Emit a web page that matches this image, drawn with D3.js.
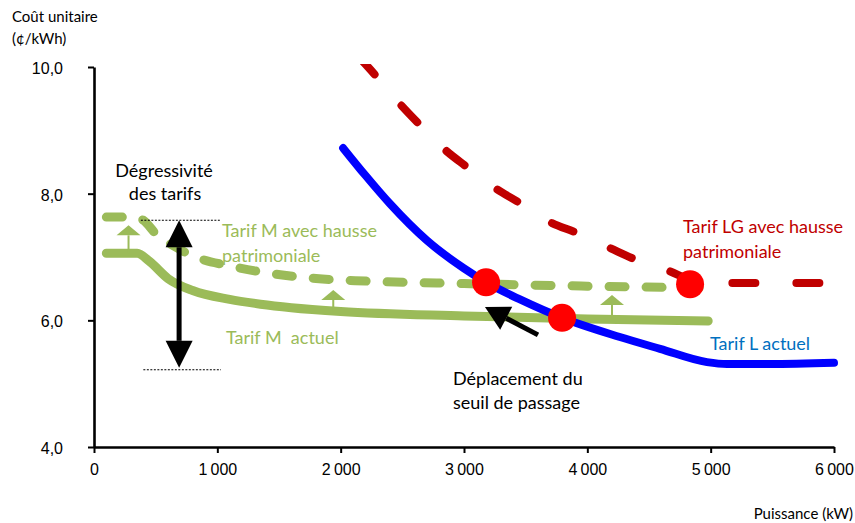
<!DOCTYPE html>
<html lang="fr">
<head>
<meta charset="utf-8">
<title>Coût unitaire selon la puissance</title>
<script src="https://cdn.jsdelivr.net/npm/d3@7/dist/d3.min.js"></script>
<style>
  html, body { margin: 0; padding: 0; background: #fff; }
  svg { display: block; }
  .label { font-family: Lato, "Open Sans", sans-serif; white-space: pre; }
  .tick text { font-family: "Liberation Sans", Arial, sans-serif; font-size: 16px; fill: #000; }
</style>
</head>
<body>
<div id="chart"></div>
<script>
// --- data (kW, ¢/kWh) ------------------------------------------------
const xTicks = [0, 1000, 2000, 3000, 4000, 5000, 6000];
const yTicks = [4, 6, 8, 10];

const tarifMActuel = [
  [100, 7.06], [350, 7.06], [450, 6.93], [600, 6.66], [800, 6.47],
  [1100, 6.33], [1350, 6.255], [1600, 6.20], [2000, 6.14], [3000, 6.07],
  [4000, 6.02], [4980, 5.99]
];

const tarifMHausse = [
  [100, 7.63], [320, 7.63], [400, 7.58], [500, 7.37], [650, 7.17],
  [850, 6.98], [1100, 6.86], [1400, 6.75], [1800, 6.66], [2200, 6.62],
  [3000, 6.58], [4000, 6.54], [4980, 6.51]
];

const tarifLActuel = [
  [2020, 8.72], [2200, 8.29], [2400, 7.84], [2700, 7.26], [3000, 6.82],
  [3179, 6.60], [3454, 6.33], [3795, 6.04], [4257, 5.74], [4590, 5.55],
  [4970, 5.34], [5133, 5.31], [5480, 5.31], [6000, 5.33]
];

const tarifLGHausse = [
  [2150, 10.15], [2222, 10.0], [2465, 9.45], [2635, 9.10], [2830, 8.72],
  [3024, 8.42], [3251, 8.09], [3454, 7.85], [3697, 7.55], [3916, 7.38],
  [4184, 7.14], [4403, 6.95], [4662, 6.78], [4833, 6.64], [4995, 6.59],
  [5238, 6.59], [6000, 6.59]
];

// seuils de passage (intersections)
const seuils = [[3179, 6.60], [3795, 6.04], [4833, 6.57]];

// petites flèches "hausse" : [kW, depuis, jusqu'à]
const hausseArrows = [[280, 7.06, 7.50], [1940, 6.14, 6.48], [4200, 6.02, 6.40]];

// dégressivité : [kW, haut, bas] et traits pointillés [kW début, kW fin, valeur]
const degressivite = [690, 7.58, 5.25];
const degressiviteGuides = [[380, 1020, 7.58], [400, 1030, 5.22]];

// déplacement du seuil : [[kW, val] départ, [kW, val] pointe]
const deplacement = [[3600, 5.77], [3170, 6.21]];

const annotations = [
  { text: 'Dégressivité', kw: 568, val: 8.26, color: '#000', anchor: 'middle' },
  { text: 'des tarifs', kw: 576, val: 7.90, color: '#000', anchor: 'middle' },
  { text: 'Tarif M avec hausse', kw: 1038, val: 7.32, color: '#9BBB59', anchor: 'start' },
  { text: 'patrimoniale', kw: 1038, val: 6.92, color: '#9BBB59', anchor: 'start' },
  { text: 'Tarif M  actuel', kw: 1070, val: 5.63, color: '#9BBB59', anchor: 'start' },
  { text: 'Tarif LG avec hausse', kw: 4776, val: 7.38, color: '#C00000', anchor: 'start' },
  { text: 'patrimoniale', kw: 4776, val: 6.98, color: '#C00000', anchor: 'start' },
  { text: 'Tarif L actuel', kw: 4995, val: 5.53, color: '#0070C0', anchor: 'start' },
  { text: 'Déplacement du', kw: 2911, val: 4.98, color: '#000', anchor: 'start' },
  { text: 'seuil de passage', kw: 2911, val: 4.60, color: '#000', anchor: 'start' }
];

// --- setup -------------------------------------------------------------
const width = 855;
const height = 523;

const fr = d3.formatLocale({ decimal: ',', thousands: '\u2009', grouping: [3], currency: ['', ' €'] });

const x = d3.scaleLinear().domain([0, 6000]).range([94, 834]);
const y = d3.scaleLinear().domain([4, 10]).range([447, 67]);

const svg = d3.select('#chart')
  .append('svg')
  .attr('width', width)
  .attr('height', height);

svg.append('defs').append('clipPath')
  .attr('id', 'plot-clip')
  .append('rect')
  .attr('x', x(0))
  .attr('y', y(10) - 3)
  .attr('width', x(6000) - x(0) + 10)
  .attr('height', y(4) - y(10) + 3);

const line = d3.line()
  .x(d => x(d[0]))
  .y(d => y(d[1]))
  .curve(d3.curveMonotoneX);

/**
 * Draw an arrow head as a filled triangle, tip at `tip`, pointing away from `from`
 */
function arrowHead(g, from, tip, len, half, color) {
  const dx = tip[0] - from[0];
  const dy = tip[1] - from[1];
  const l = Math.hypot(dx, dy);
  const ux = dx / l, uy = dy / l;
  const bx = tip[0] - ux * len, by = tip[1] - uy * len;
  g.append('path')
    .attr('d', `M${tip[0]},${tip[1]}L${bx - uy * half},${by + ux * half}L${bx + uy * half},${by - ux * half}Z`)
    .attr('fill', color);
  return [bx, by];
}

// --- axes --------------------------------------------------------------
const xAxis = svg.append('g')
  .attr('transform', `translate(0,${y(4)})`)
  .call(d3.axisBottom(x).tickValues(xTicks).tickFormat(fr.format(',d')).tickSize(6).tickSizeOuter(0).tickPadding(11));

const yAxis = svg.append('g')
  .attr('transform', `translate(${x(0)},0)`)
  .call(d3.axisLeft(y).tickValues(yTicks).tickFormat(fr.format('.1f')).tickSize(6).tickSizeOuter(0).tickPadding(25));

[xAxis, yAxis].forEach(a => {
  a.select('.domain').attr('stroke', '#000').attr('stroke-width', 2.6);
  a.selectAll('.tick line').attr('stroke', '#000').attr('stroke-width', 2);
});
yAxis.selectAll('.tick text').attr('dy', '0.4em');

svg.append('text').attr('class', 'label')
  .attr('x', 12).attr('y', 22).attr('font-size', 15).text('Coût unitaire');
svg.append('text').attr('class', 'label')
  .attr('x', 12).attr('y', 44).attr('font-size', 15).text('(¢/kWh)');
svg.append('text').attr('class', 'label')
  .attr('x', 853).attr('y', 519).attr('font-size', 15).attr('text-anchor', 'end').text('Puissance (kW)');

// --- series ------------------------------------------------------------
const series = svg.append('g').attr('clip-path', 'url(#plot-clip)');

series.append('path')
  .datum(tarifMActuel)
  .attr('d', line)
  .attr('fill', 'none')
  .attr('stroke', '#9BBB59')
  .attr('stroke-width', 9)
  .attr('stroke-linecap', 'round');

series.append('path')
  .datum(tarifMHausse)
  .attr('d', line)
  .attr('fill', 'none')
  .attr('stroke', '#9BBB59')
  .attr('stroke-width', 9)
  .attr('stroke-linecap', 'round')
  .attr('stroke-dasharray', '16,21');

series.append('path')
  .datum(tarifLActuel)
  .attr('d', line)
  .attr('fill', 'none')
  .attr('stroke', '#0000FF')
  .attr('stroke-width', 8)
  .attr('stroke-linecap', 'round');

series.append('path')
  .datum(tarifLGHausse)
  .attr('d', line)
  .attr('fill', 'none')
  .attr('stroke', '#C00000')
  .attr('stroke-width', 8)
  .attr('stroke-linecap', 'round')
  .attr('stroke-dasharray', '23,41');

// --- hausse arrows -----------------------------------------------------
const notes = svg.append('g');

hausseArrows.forEach(([kw, from, to]) => {
  const p0 = [x(kw), y(from)];
  const tip = [x(kw), y(to)];
  const base = arrowHead(notes, p0, tip, 10, 12, '#9BBB59');
  notes.append('line')
    .attr('x1', p0[0]).attr('y1', p0[1])
    .attr('x2', base[0]).attr('y2', base[1])
    .attr('stroke', '#9BBB59')
    .attr('stroke-width', 2);
});

// --- seuils ------------------------------------------------------------
notes.selectAll('circle.seuil')
  .data(seuils)
  .join('circle')
  .attr('class', 'seuil')
  .attr('cx', d => x(d[0]))
  .attr('cy', d => y(d[1]))
  .attr('r', 14)
  .attr('fill', '#FF0000');

// --- dégressivité ------------------------------------------------------
degressiviteGuides.forEach(([k0, k1, v]) => {
  notes.append('line')
    .attr('x1', x(k0)).attr('x2', x(k1))
    .attr('y1', y(v)).attr('y2', y(v))
    .attr('stroke', '#000')
    .attr('stroke-width', 1.2)
    .attr('stroke-dasharray', '2,1.5');
});

{
  const [kw, top, bottom] = degressivite;
  const a = [x(kw), y(top)];
  const b = [x(kw), y(bottom)];
  const b1 = arrowHead(notes, b, a, 27, 13.5, '#000');
  const b2 = arrowHead(notes, a, b, 27, 13.5, '#000');
  notes.append('line')
    .attr('x1', b1[0]).attr('y1', b1[1])
    .attr('x2', b2[0]).attr('y2', b2[1])
    .attr('stroke', '#000')
    .attr('stroke-width', 5);
}

// --- déplacement du seuil ----------------------------------------------
{
  const from = [x(deplacement[0][0]), y(deplacement[0][1])];
  const tip = [x(deplacement[1][0]), y(deplacement[1][1])];
  const base = arrowHead(notes, from, tip, 24, 13, '#000');
  notes.append('line')
    .attr('x1', from[0]).attr('y1', from[1])
    .attr('x2', base[0]).attr('y2', base[1])
    .attr('stroke', '#000')
    .attr('stroke-width', 5);
}

// --- annotations -------------------------------------------------------
svg.append('g')
  .selectAll('text')
  .data(annotations)
  .join('text')
  .attr('class', 'label')
  .attr('x', d => x(d.kw))
  .attr('y', d => y(d.val))
  .attr('font-size', 18)
  .attr('fill', d => d.color)
  .attr('text-anchor', d => d.anchor)
  .text(d => d.text);
</script>
</body>
</html>
